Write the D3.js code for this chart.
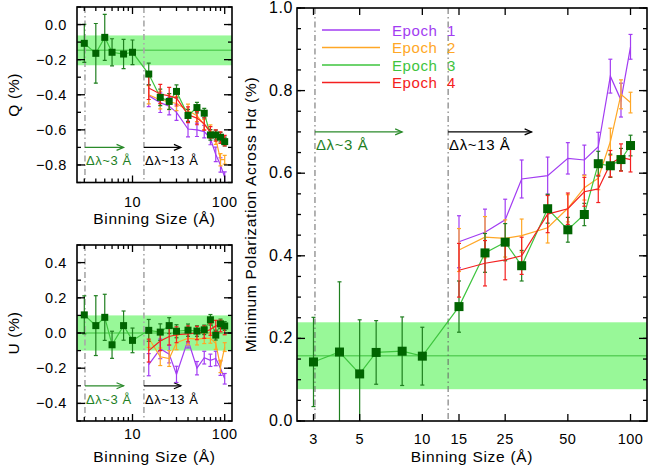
<!DOCTYPE html>
<html>
<head>
<meta charset="utf-8">
<script src="https://cdn.jsdelivr.net/npm/d3@7"></script>
<style>
  body { margin: 0; background: #fff; }
  svg { display: block; }
  text { font-family: "Liberation Sans", Arial, Helvetica, sans-serif; }
</style>
</head>
<body>
<svg id="fig" width="648" height="473"></svg>
<script>
// ---- binning sizes (Å) ----
const binsSmall = [3, 4, 5, 6, 8, 10];
const binsLarge = [15, 20, 25, 30, 40, 50, 60, 70, 80, 90, 100];
const binsAll = binsSmall.concat(binsLarge);

// ---- minimum polarization across Hα (%) ----
const e1P = [0.434, 0.457, 0.487, 0.586, 0.594, 0.636, 0.632, 0.664, 0.835, 0.777, 0.906];
const e2P = [0.414, 0.445, 0.442, 0.449, 0.468, 0.515, 0.565, 0.588, 0.676, 0.791, 0.771];
const e3P = [0.143, 0.167, 0.114, 0.166, 0.169, 0.157,
             0.277, 0.407, 0.433, 0.376, 0.514, 0.463, 0.500, 0.623, 0.618, 0.633, 0.667];
const e4P = [0.365, 0.382, 0.390, 0.400, 0.501, 0.514, 0.555, 0.562, 0.623, 0.638, 0.633];

// ---- Stokes Q (%) ----
const e1Q = [-0.405, -0.445, -0.465, -0.500, -0.595, -0.600, -0.610, -0.650, -0.740, -0.800, -0.870];
const e2Q = [-0.400, -0.430, -0.440, -0.450, -0.490, -0.520, -0.570, -0.600, -0.650, -0.770, -0.770];
const e3Q = [-0.107, -0.164, -0.073, -0.158, -0.168, -0.158,
             -0.282, -0.415, -0.438, -0.381, -0.518, -0.473, -0.505, -0.629, -0.629, -0.642, -0.667];
const e4Q = [-0.362, -0.396, -0.406, -0.419, -0.514, -0.533, -0.566, -0.615, -0.632, -0.644, -0.661];

// ---- Stokes U (%) ----
const e1U = [-0.180, -0.090, -0.120, -0.235, -0.040, -0.200, -0.140, -0.155, -0.145, -0.200, -0.260];
const e2U = [-0.030, -0.135, -0.145, -0.055, -0.030, -0.035, -0.030, -0.030, -0.060, -0.190, -0.080];
const e3U = [0.103, 0.042, 0.089, -0.067, 0.042, -0.042,
             0.015, 0.005, 0.042, 0.010, 0.016, 0.011, 0.018, 0.075, -0.012, 0.052, 0.040];
const e4U = [-0.100, -0.045, -0.020, -0.010, -0.005, 0.000, 0.005, 0.020, 0.040, 0.040, 0.020];

// ---- 1-sigma uncertainties (%) ----
const e1Err = [0.063, 0.056, 0.050, 0.046, 0.045, 0.038, 0.036, 0.035, 0.041, 0.041, 0.030];
const e2Err = [0.052, 0.050, 0.045, 0.040, 0.037, 0.033, 0.030, 0.028, 0.033, 0.035, 0.025];
const e3Err = [0.108, 0.170, 0.131, 0.077, 0.083, 0.070,
               0.062, 0.047, 0.045, 0.037, 0.035, 0.030, 0.027, 0.030, 0.028, 0.027, 0.025];
const e4Err = [0.065, 0.055, 0.048, 0.045, 0.045, 0.038, 0.035, 0.033, 0.032, 0.033, 0.030];

// ---- mean level of the small-bin points and its spread [centre, half-width] ----
const bandP = [0.158, 0.081];
const bandQ = [-0.147, 0.085];
const bandU = [0.000, 0.100];

// ---- resolution markers (Å) ----
const resMarks = [3.05, 13.3];
const arrowSpans = [[3.05, 8.0], [13.3, 33.5]];
const arrowTexts = ["Δλ~3 Å", "Δλ~13 Å"];

// ---- ticks ----
const mainXTicks = [3, 5, 10, 15, 25, 50, 100];
const leftXMajor = [10, 100];
const leftXMinor = [3, 4, 5, 6, 7, 8, 9, 20, 30, 40, 50, 60, 70, 80, 90];
const mainYTicks = [0.0, 0.2, 0.4, 0.6, 0.8, 1.0];
const qYTicks = [-0.8, -0.6, -0.4, -0.2, 0.0];
const uYTicks = [-0.4, -0.2, 0.0, 0.2, 0.4];

const epochNames = ["Epoch 1", "Epoch 2", "Epoch 3", "Epoch 4"];
const epochColors = ["#a23cf2", "#ffa726", "#3ec43e", "#f42020"];

const C = {
  bandFill: "#98f898", bandLine: "#5ad25a",
  square: "#006400", e3err: "#1f7f1f",
  arrowGreen: "#2a8a2a", labelGreen: "#1f7f1f"
};

const svg = d3.select("#fig");
const xDomain = [2.5, 120];
const fmt = v => (v < 0 ? "\u2212" : "") + Math.abs(v).toFixed(1);

function seriesFor(key) {
  const pick = { P: [e1P, e2P, e3P, e4P], Q: [e1Q, e2Q, e3Q, e4Q], U: [e1U, e2U, e3U, e4U] }[key];
  const errs = [e1Err, e2Err, e3Err, e4Err];
  return pick.map((vals, i) => ({
    bins: i === 2 ? binsAll : binsLarge,
    vals, errs: errs[i],
    line: epochColors[i],
    err: i === 2 ? C.e3err : epochColors[i],
    squares: i === 2
  }));
}

function drawPanel(o) {
  const x = d3.scaleLog().domain(xDomain).range([o.l, o.r]);
  const y = d3.scaleLinear().domain(o.yDomain).range([o.b, o.t]);
  const g = svg.append("g");
  const clipId = "clip-" + o.key;
  svg.append("clipPath").attr("id", clipId).append("rect")
    .attr("x", o.l).attr("y", o.t).attr("width", o.r - o.l).attr("height", o.b - o.t);
  const body = g.append("g").attr("clip-path", `url(#${clipId})`);

  // spread band and its centre
  body.append("rect")
    .attr("x", o.l).attr("width", o.r - o.l)
    .attr("y", y(o.band[0] + o.band[1]))
    .attr("height", y(o.band[0] - o.band[1]) - y(o.band[0] + o.band[1]))
    .attr("fill", C.bandFill);
  body.append("line")
    .attr("x1", o.l).attr("x2", o.r)
    .attr("y1", y(o.band[0])).attr("y2", y(o.band[0]))
    .attr("stroke", C.bandLine).attr("stroke-width", 1.5);

  // resolution markers
  resMarks.forEach(m => body.append("line")
    .attr("x1", x(m)).attr("x2", x(m)).attr("y1", o.t).attr("y2", o.b)
    .attr("stroke", o.vColor).attr("stroke-width", o.vWidth)
    .attr("stroke-dasharray", "6,3,1.5,3"));

  // arrows with labels
  arrowSpans.forEach((s, i) => {
    const col = i === 0 ? C.arrowGreen : "#000";
    const yy = y(o.arrowY);
    const x0 = x(s[0]), x1 = x(s[1]);
    body.append("line").attr("x1", x0).attr("x2", x1).attr("y1", yy).attr("y2", yy)
      .attr("stroke", col).attr("stroke-width", 1.2);
    body.append("path")
      .attr("d", `M${x1 - 7},${yy - 3}L${x1},${yy}L${x1 - 7},${yy + 3}`)
      .attr("fill", "none").attr("stroke", col).attr("stroke-width", 1.2);
    body.append("text").attr("x", x0 + 1).attr("y", yy + o.arrowTextDy)
      .attr("font-size", o.arrowFont).attr("letter-spacing", "0.6px")
      .attr("fill", i === 0 ? C.labelGreen : "#000").text(arrowTexts[i]);
  });

  const series = seriesFor(o.key);
  const line = d3.line().x(d => x(d[0])).y(d => y(d[1]));
  // draw order: epochs 1, 2, 3, 4
  series.forEach(s => {
    const pts = s.bins.map((b, j) => [b, s.vals[j], s.errs[j]]);
    body.append("path").attr("d", line(pts))
      .attr("fill", "none").attr("stroke", s.line).attr("stroke-width", 1.2);
    const eb = body.append("g").attr("stroke", s.err).attr("stroke-width", 1.2);
    pts.forEach(p => {
      const xx = x(p[0]), y1 = y(p[1] - p[2]), y2 = y(p[1] + p[2]);
      eb.append("line").attr("x1", xx).attr("x2", xx).attr("y1", y1).attr("y2", y2);
      eb.append("line").attr("x1", xx - 2).attr("x2", xx + 2).attr("y1", y1).attr("y2", y1);
      eb.append("line").attr("x1", xx - 2).attr("x2", xx + 2).attr("y1", y2).attr("y2", y2);
    });
  });
  series.filter(s => s.squares).forEach(s => {
    s.bins.forEach((b, j) => body.append("rect")
      .attr("x", x(b) - o.sq / 2).attr("y", y(s.vals[j]) - o.sq / 2)
      .attr("width", o.sq).attr("height", o.sq).attr("fill", C.square));
  });

  // inward ticks on all four sides
  const tk = g.append("g").attr("stroke", "#000").attr("stroke-width", 1.3);
  const xt = (v, len) => {
    tk.append("line").attr("x1", x(v)).attr("x2", x(v)).attr("y1", o.b).attr("y2", o.b - len);
    tk.append("line").attr("x1", x(v)).attr("x2", x(v)).attr("y1", o.t).attr("y2", o.t + len);
  };
  const yt = (v, len) => {
    tk.append("line").attr("x1", o.l).attr("x2", o.l + len).attr("y1", y(v)).attr("y2", y(v));
    tk.append("line").attr("x1", o.r).attr("x2", o.r - len).attr("y1", y(v)).attr("y2", y(v));
  };
  o.xMajor.forEach(v => xt(v, 7));
  o.xMinor.forEach(v => xt(v, 4));
  const [y0, y1] = o.yDomain;
  const nMinor = Math.round((y1 - y0) / o.yMinorStep);
  for (let k = 0; k <= nMinor; k++) yt(y0 + k * o.yMinorStep, 4);
  o.yTicks.forEach(v => yt(v, 8));

  // frame
  g.append("rect").attr("x", o.l).attr("y", o.t)
    .attr("width", o.r - o.l).attr("height", o.b - o.t)
    .attr("fill", "none").attr("stroke", "#000").attr("stroke-width", 1.6);

  // tick labels
  o.xMajor.forEach(v => g.append("text")
    .attr("x", x(v)).attr("y", o.xLabY).attr("text-anchor", "middle")
    .attr("font-size", 14.5).attr("letter-spacing", "0.5px").text(String(v)));
  o.yTicks.forEach(v => g.append("text")
    .attr("x", o.yLabX).attr("y", y(v) + 5).attr("text-anchor", "end")
    .attr("font-size", o.yLabFont).attr("letter-spacing", "0.6px").text(fmt(v)));

  // axis titles
  g.append("text").attr("x", (o.l + o.r) / 2).attr("y", o.xTitleY)
    .attr("text-anchor", "middle").attr("font-size", 15.5).attr("letter-spacing", "0.7px")
    .text("Binning Size (Å)");
  g.append("text")
    .attr("transform", `translate(${o.yTitleX},${(o.t + o.b) / 2}) rotate(-90)`)
    .attr("text-anchor", "middle").attr("font-size", 15.5).attr("letter-spacing", "0.7px")
    .text(o.yTitle);

  return { x, y, g };
}

// left column: Stokes Q and U
drawPanel({
  key: "Q", l: 77, r: 232, t: 7, b: 182.5, yDomain: [-0.9, 0.1],
  band: bandQ, vColor: "#a8a8a8", vWidth: 1.6, arrowY: -0.7, arrowTextDy: 18, arrowFont: 13,
  sq: 7, xMajor: leftXMajor, xMinor: leftXMinor, yTicks: qYTicks, yMinorStep: 0.1,
  xLabY: 206.5, yLabX: 67, yLabFont: 14.5, xTitleY: 224, yTitleX: 19, yTitle: "Q (%)"
});
drawPanel({
  key: "U", l: 77, r: 232, t: 245, b: 421, yDomain: [-0.5, 0.5],
  band: bandU, vColor: "#a8a8a8", vWidth: 1.6, arrowY: -0.3, arrowTextDy: 18, arrowFont: 13,
  sq: 7, xMajor: leftXMajor, xMinor: leftXMinor, yTicks: uYTicks, yMinorStep: 0.1,
  xLabY: 438.5, yLabX: 67, yLabFont: 14.5, xTitleY: 462, yTitleX: 19, yTitle: "U (%)"
});

// right: minimum polarization
const main = drawPanel({
  key: "P", l: 297, r: 647, t: 8, b: 421, yDomain: [0, 1.0],
  band: bandP, vColor: "#666", vWidth: 1, arrowY: 0.7, arrowTextDy: 18, arrowFont: 15,
  sq: 9, xMajor: mainXTicks, xMinor: [], yTicks: mainYTicks, yMinorStep: 0.05,
  xLabY: 443.5, yLabX: 293, yLabFont: 16, xTitleY: 462, yTitleX: 256,
  yTitle: "Minimum Polarization Across Hα (%)"
});

// legend
const leg = main.g.append("g");
epochNames.forEach((name, i) => {
  const yy = 30 + i * 17.5;
  leg.append("line").attr("x1", 322).attr("x2", 380).attr("y1", yy).attr("y2", yy)
    .attr("stroke", epochColors[i]).attr("stroke-width", 1.3);
  leg.append("text").attr("x", 392).attr("y", yy + 5.5)
    .attr("font-size", 15).attr("letter-spacing", "0.6px").attr("fill", epochColors[i])
    .attr("xml:space", "preserve").style("white-space", "pre")
    .text(name.replace(" ", "  "));
});
</script>
</body>
</html>
